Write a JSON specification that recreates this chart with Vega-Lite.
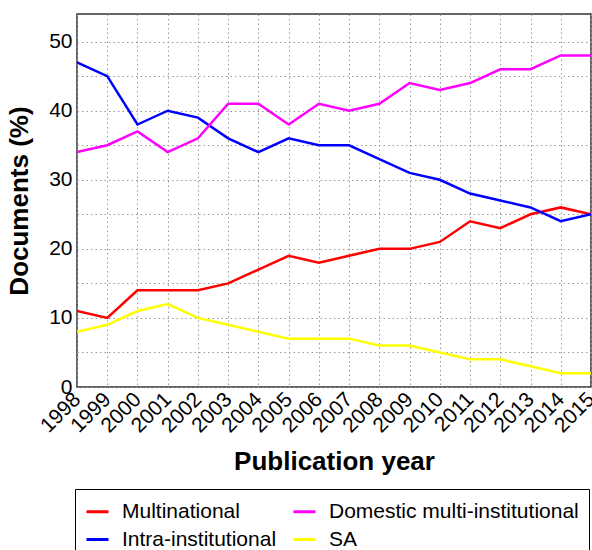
{
  "$schema": "https://vega.github.io/schema/vega-lite/v6.json",
  "width": 514,
  "height": 373,
  "autosize": {"type": "none"},
  "padding": {"left": 77, "top": 14, "right": 1, "bottom": 163},
  "background": "white",
  "config": {
    "font": "Liberation Sans",
    "view": {"stroke": "#333333", "strokeWidth": 1.5}
  },
  "data": {
    "values": [
      {"year": 1998, "series": "Multinational", "value": 11},
      {"year": 1999, "series": "Multinational", "value": 10},
      {"year": 2000, "series": "Multinational", "value": 14},
      {"year": 2001, "series": "Multinational", "value": 14},
      {"year": 2002, "series": "Multinational", "value": 14},
      {"year": 2003, "series": "Multinational", "value": 15},
      {"year": 2004, "series": "Multinational", "value": 17},
      {"year": 2005, "series": "Multinational", "value": 19},
      {"year": 2006, "series": "Multinational", "value": 18},
      {"year": 2007, "series": "Multinational", "value": 19},
      {"year": 2008, "series": "Multinational", "value": 20},
      {"year": 2009, "series": "Multinational", "value": 20},
      {"year": 2010, "series": "Multinational", "value": 21},
      {"year": 2011, "series": "Multinational", "value": 24},
      {"year": 2012, "series": "Multinational", "value": 23},
      {"year": 2013, "series": "Multinational", "value": 25},
      {"year": 2014, "series": "Multinational", "value": 26},
      {"year": 2015, "series": "Multinational", "value": 25},
      {"year": 1998, "series": "Intra-institutional", "value": 47},
      {"year": 1999, "series": "Intra-institutional", "value": 45},
      {"year": 2000, "series": "Intra-institutional", "value": 38},
      {"year": 2001, "series": "Intra-institutional", "value": 40},
      {"year": 2002, "series": "Intra-institutional", "value": 39},
      {"year": 2003, "series": "Intra-institutional", "value": 36},
      {"year": 2004, "series": "Intra-institutional", "value": 34},
      {"year": 2005, "series": "Intra-institutional", "value": 36},
      {"year": 2006, "series": "Intra-institutional", "value": 35},
      {"year": 2007, "series": "Intra-institutional", "value": 35},
      {"year": 2008, "series": "Intra-institutional", "value": 33},
      {"year": 2009, "series": "Intra-institutional", "value": 31},
      {"year": 2010, "series": "Intra-institutional", "value": 30},
      {"year": 2011, "series": "Intra-institutional", "value": 28},
      {"year": 2012, "series": "Intra-institutional", "value": 27},
      {"year": 2013, "series": "Intra-institutional", "value": 26},
      {"year": 2014, "series": "Intra-institutional", "value": 24},
      {"year": 2015, "series": "Intra-institutional", "value": 25},
      {"year": 1998, "series": "Domestic multi-institutional", "value": 34},
      {"year": 1999, "series": "Domestic multi-institutional", "value": 35},
      {"year": 2000, "series": "Domestic multi-institutional", "value": 37},
      {"year": 2001, "series": "Domestic multi-institutional", "value": 34},
      {"year": 2002, "series": "Domestic multi-institutional", "value": 36},
      {"year": 2003, "series": "Domestic multi-institutional", "value": 41},
      {"year": 2004, "series": "Domestic multi-institutional", "value": 41},
      {"year": 2005, "series": "Domestic multi-institutional", "value": 38},
      {"year": 2006, "series": "Domestic multi-institutional", "value": 41},
      {"year": 2007, "series": "Domestic multi-institutional", "value": 40},
      {"year": 2008, "series": "Domestic multi-institutional", "value": 41},
      {"year": 2009, "series": "Domestic multi-institutional", "value": 44},
      {"year": 2010, "series": "Domestic multi-institutional", "value": 43},
      {"year": 2011, "series": "Domestic multi-institutional", "value": 44},
      {"year": 2012, "series": "Domestic multi-institutional", "value": 46},
      {"year": 2013, "series": "Domestic multi-institutional", "value": 46},
      {"year": 2014, "series": "Domestic multi-institutional", "value": 48},
      {"year": 2015, "series": "Domestic multi-institutional", "value": 48},
      {"year": 1998, "series": "SA", "value": 8},
      {"year": 1999, "series": "SA", "value": 9},
      {"year": 2000, "series": "SA", "value": 11},
      {"year": 2001, "series": "SA", "value": 12},
      {"year": 2002, "series": "SA", "value": 10},
      {"year": 2003, "series": "SA", "value": 9},
      {"year": 2004, "series": "SA", "value": 8},
      {"year": 2005, "series": "SA", "value": 7},
      {"year": 2006, "series": "SA", "value": 7},
      {"year": 2007, "series": "SA", "value": 7},
      {"year": 2008, "series": "SA", "value": 6},
      {"year": 2009, "series": "SA", "value": 6},
      {"year": 2010, "series": "SA", "value": 5},
      {"year": 2011, "series": "SA", "value": 4},
      {"year": 2012, "series": "SA", "value": 4},
      {"year": 2013, "series": "SA", "value": 3},
      {"year": 2014, "series": "SA", "value": 2},
      {"year": 2015, "series": "SA", "value": 2}
    ]
  },
  "mark": {"type": "line", "strokeWidth": 2.5, "clip": true},
  "encoding": {
    "x": {
      "field": "year",
      "type": "quantitative",
      "scale": {"domain": [1998, 2015], "nice": false, "zero": false},
      "axis": {
        "title": "Publication year",
        "values": [1998, 1999, 2000, 2001, 2002, 2003, 2004, 2005, 2006, 2007, 2008, 2009, 2010, 2011, 2012, 2013, 2014, 2015],
        "format": "d",
        "labelAngle": -45,
        "labelAlign": "right",
        "labelBaseline": "middle",
        "labelFontSize": 21,
        "labelColor": "black",
        "labelPadding": 9,
        "labelOverlap": false,
        "labelFlush": false,
        "ticks": false,
        "domain": false,
        "grid": true,
        "gridColor": "#999999",
        "gridDash": [1.5, 3],
        "gridWidth": 1,
        "titleFontSize": 26,
        "titleFontWeight": "bold",
        "titleColor": "black",
        "titlePadding": 12
      }
    },
    "y": {
      "field": "value",
      "type": "quantitative",
      "scale": {"domain": [0, 54], "nice": false},
      "axis": {
        "title": "Documents (%)",
        "values": [0, 5, 10, 15, 20, 25, 30, 35, 40, 45, 50],
        "labelExpr": "datum.value % 10 === 0 ? datum.label : ''",
        "labelFontSize": 21,
        "labelColor": "black",
        "labelPadding": 5,
        "ticks": false,
        "domain": false,
        "grid": true,
        "gridColor": "#999999",
        "gridDash": [1.5, 3],
        "gridWidth": 1,
        "titleFontSize": 26,
        "titleFontWeight": "bold",
        "titleColor": "black",
        "titlePadding": 16
      }
    },
    "color": {
      "field": "series",
      "type": "nominal",
      "scale": {
        "domain": ["Multinational", "Domestic multi-institutional", "Intra-institutional", "SA"],
        "range": ["#ff0000", "#ff00ff", "#0000ff", "#ffff00"]
      },
      "legend": {
        "title": null,
        "orient": "none",
        "legendX": -2,
        "legendY": 475,
        "direction": "horizontal",
        "columns": 2,
        "symbolType": "stroke",
        "symbolSize": 484,
        "symbolStrokeWidth": 3,
        "labelFontSize": 21,
        "labelColor": "black",
        "labelOffset": 12,
        "labelLimit": 400,
        "columnPadding": 10,
        "rowPadding": 5,
        "padding": 10,
        "strokeColor": "black",
        "fillColor": "white"
      }
    }
  }
}
